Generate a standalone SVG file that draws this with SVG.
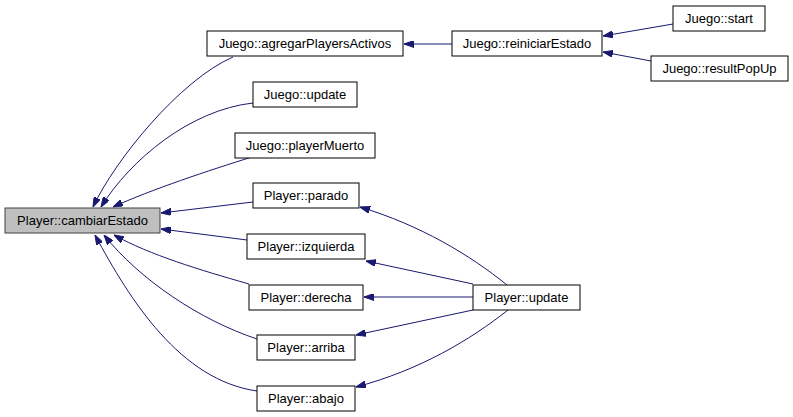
<svg xmlns="http://www.w3.org/2000/svg" width="793" height="417" viewBox="0 0 793 417">
<style>
.node rect{fill:#ffffff;stroke:#000000;stroke-width:1}
.node.cur rect{fill:#bfbfbf;stroke:#404040}
.node text{font-family:"Liberation Sans",Arial,sans-serif;font-size:13px;text-anchor:middle;fill:#000000}
.edge{fill:none;stroke:#191970;stroke-width:1;marker-end:url(#arr)}
</style>
<defs>
<marker id="arr" viewBox="0 0 10 7" refX="10" refY="3.5" markerWidth="10" markerHeight="7" markerUnits="userSpaceOnUse" orient="auto">
<path d="M0,0 L10,3.5 L0,7 Z" fill="#191970" stroke="#191970" stroke-width="1"/>
</marker>
</defs>
<rect width="793" height="417" fill="#ffffff"/>
<g id="connectors">
<path class="edge" d="M233,57 C180,80 115,160 93,207"/>
<path class="edge" d="M253,103 C190,110 130,160 101,207"/>
<path class="edge" d="M252,157 C210,170 150,190 113,207"/>
<path class="edge" d="M253,202 L161,213"/>
<path class="edge" d="M247,240 L161,229"/>
<path class="edge" d="M249,284 C200,270 150,255 114,235"/>
<path class="edge" d="M257,339 C200,320 140,280 104,235"/>
<path class="edge" d="M257,391 C180,380 130,300 95,235"/>
<path class="edge" d="M452,44 L404,44"/>
<path class="edge" d="M673,24 L603,36"/>
<path class="edge" d="M651,61 L603,52"/>
<path class="edge" d="M507,285 C470,255 420,225 360,207"/>
<path class="edge" d="M473,284 L366,261"/>
<path class="edge" d="M473,297 L364,297"/>
<path class="edge" d="M473,310 L356,335"/>
<path class="edge" d="M508,310 C470,340 420,370 356,387"/>
</g>
<g id="n_cambiarEstado" class="node cur"><rect x="5" y="208" width="155" height="25"/><text x="82.5" y="225">Player::cambiarEstado</text></g>
<g id="n_agregarPlayersActivos" class="node"><rect x="207" y="31" width="196" height="25"/><text x="305" y="48">Juego::agregarPlayersActivos</text></g>
<g id="n_reiniciarEstado" class="node"><rect x="452" y="31" width="150" height="25"/><text x="527" y="48">Juego::reiniciarEstado</text></g>
<g id="n_start" class="node"><rect x="673" y="6" width="92" height="25"/><text x="719" y="23">Juego::start</text></g>
<g id="n_resultPopUp" class="node"><rect x="651" y="56" width="137" height="25"/><text x="719.5" y="73">Juego::resultPopUp</text></g>
<g id="n_jupdate" class="node"><rect x="253" y="82" width="104" height="25"/><text x="305" y="99">Juego::update</text></g>
<g id="n_playerMuerto" class="node"><rect x="235" y="133" width="140" height="25"/><text x="305" y="150">Juego::playerMuerto</text></g>
<g id="n_parado" class="node"><rect x="253" y="183" width="106" height="25"/><text x="306" y="200">Player::parado</text></g>
<g id="n_izquierda" class="node"><rect x="247" y="234" width="118" height="25"/><text x="306" y="251">Player::izquierda</text></g>
<g id="n_derecha" class="node"><rect x="249" y="285" width="114" height="25"/><text x="306" y="302">Player::derecha</text></g>
<g id="n_arriba" class="node"><rect x="257" y="335" width="98" height="25"/><text x="306" y="352">Player::arriba</text></g>
<g id="n_abajo" class="node"><rect x="257" y="386" width="98" height="25"/><text x="306" y="403">Player::abajo</text></g>
<g id="n_pupdate" class="node"><rect x="473" y="285" width="107" height="25"/><text x="526.5" y="302">Player::update</text></g>
</svg>
